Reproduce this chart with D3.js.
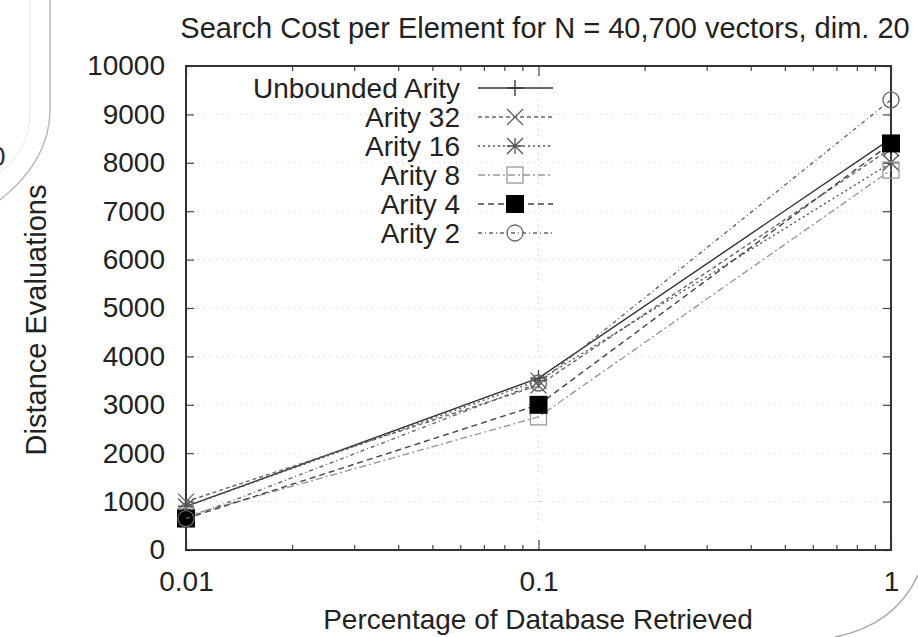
<!DOCTYPE html>
<html lang="en">
<head>
  <meta charset="UTF-8">
  <title>Search Cost per Element</title>
  <style>
    body { margin: 0; background: #fff; }
    svg { display: block; font-family: "Liberation Sans", Arial, sans-serif; }
  </style>
</head>
<body>
<div id="chart"></div>
<script src="https://d3js.org/d3.v7.min.js"></script>
<script>

const width = 918;
const height = 637;

// data
const fractions = [0.01, 0.1, 1];
const seriesNames = ["Unbounded Arity", "Arity 32", "Arity 16", "Arity 8", "Arity 4", "Arity 2"];
const unbounded = [900, 3550, 8500];
const arity32 = [1000, 3400, 8300];
const arity16 = [900, 3500, 8000];
const arity8 = [700, 2750, 7850];
const arity4 = [650, 3000, 8400];
const arity2 = [650, 3450, 9300];
const yTicks = [0, 1000, 2000, 3000, 4000, 5000, 6000, 7000, 8000, 9000, 10000];
const xTicks = [0.01, 0.1, 1];

const seriesValues = [unbounded, arity32, arity16, arity8, arity4, arity2];
const styles = [
  { color: "#333", dash: null, marker: "plus" },
  { color: "#666", dash: "4,3", marker: "cross" },
  { color: "#555", dash: "2,3", marker: "star" },
  { color: "#999", dash: "7,3,2,3", marker: "box" },
  { color: "#444", dash: "6,4", marker: "fbox" },
  { color: "#666", dash: "4,3,1,3", marker: "circle" }
];

const fs = 28;
const m = { left: 186, right: 27, top: 66, bottom: 87 };
const x = d3.scaleLog().domain([0.01, 1]).range([m.left, width - m.right]);
const y = d3.scaleLinear().domain([0, 10000]).range([height - m.bottom, m.top]);

const svg = d3.select("#chart").append("svg")
  .attr("width", width)
  .attr("height", height);

// page curl leftovers from the scan
svg.append("path")
  .attr("d", "M50,0 L50,110 Q50,160 0,200")
  .attr("fill", "none").attr("stroke", "#bbb").attr("stroke-width", 1.5);
svg.append("path")
  .attr("d", "M30,0 L30,112 Q30,150 0,172")
  .attr("fill", "none").attr("stroke", "#ddd").attr("stroke-width", 0.7);
svg.append("text").attr("x", -10).attr("y", 166).attr("font-size", fs).attr("fill", "#333").text("0");
svg.append("path")
  .attr("d", "M835,637 Q895,625 918,575")
  .attr("fill", "none").attr("stroke", "#aaa").attr("stroke-width", 1.5);

// grid
const g = svg.append("g");
g.selectAll(".gy").data(yTicks.slice(1, -1)).enter().append("line")
  .attr("x1", m.left).attr("x2", width - m.right)
  .attr("y1", d => y(d)).attr("y2", d => y(d))
  .attr("stroke", "#ccc").attr("stroke-dasharray", "1,5");
g.selectAll(".gx").data(xTicks.slice(1, -1)).enter().append("line")
  .attr("x1", d => x(d)).attr("x2", d => x(d))
  .attr("y1", y(0)).attr("y2", y(10000))
  .attr("stroke", "#ccc").attr("stroke-dasharray", "1,5");

// axes (mirrored ticks like gnuplot)
const minor = [];
[0.01, 0.1].forEach(b => { for (let k = 2; k <= 9; k++) minor.push(b * k); });

const axLeft = d3.axisLeft(y).tickValues(yTicks).tickSize(-8).tickPadding(21).tickFormat(d3.format("d"));
const axRight = d3.axisRight(y).tickValues(yTicks).tickSize(-8).tickFormat("");
const axBottom = d3.axisBottom(x).tickValues(xTicks).tickSize(-10).tickPadding(21).tickFormat(d => String(d));
const axTop = d3.axisTop(x).tickValues(xTicks).tickSize(-10).tickFormat("");
const minBottom = d3.axisBottom(x).tickValues(minor).tickSize(-5).tickFormat("");
const minTop = d3.axisTop(x).tickValues(minor).tickSize(-5).tickFormat("");

function styleAxis(sel) {
  sel.select(".domain").remove();
  sel.selectAll("line").attr("stroke", "#444").attr("stroke-width", 1.2);
  sel.selectAll("text").attr("font-size", fs).attr("fill", "#222")
    .attr("font-family", "'Liberation Sans', Arial, sans-serif");
}
svg.append("g").attr("transform", `translate(${m.left},0)`).call(axLeft).call(styleAxis);
svg.append("g").attr("transform", `translate(${width - m.right},0)`).call(axRight).call(styleAxis);
svg.append("g").attr("transform", `translate(0,${y(0)})`).call(axBottom).call(styleAxis);
svg.append("g").attr("transform", `translate(0,${y(10000)})`).call(axTop).call(styleAxis);
svg.append("g").attr("transform", `translate(0,${y(0)})`).call(minBottom).call(styleAxis);
svg.append("g").attr("transform", `translate(0,${y(10000)})`).call(minTop).call(styleAxis);

svg.append("rect")
  .attr("x", m.left).attr("y", y(10000))
  .attr("width", width - m.right - m.left).attr("height", y(0) - y(10000))
  .attr("fill", "none").attr("stroke", "#333").attr("stroke-width", 2);

// markers
function drawMarker(sel, type, color) {
  const s = 8;
  if (type === "plus") {
    sel.append("path").attr("d", `M${-s},0H${s}M0,${-s}V${s}`).attr("stroke", color).attr("stroke-width", 1.3);
  } else if (type === "cross") {
    sel.append("path").attr("d", `M${-s},${-s}L${s},${s}M${-s},${s}L${s},${-s}`).attr("stroke", color).attr("stroke-width", 1.3);
  } else if (type === "star") {
    sel.append("path").attr("d", `M${-s},0H${s}M0,${-s}V${s}M${-s},${-s}L${s},${s}M${-s},${s}L${s},${-s}`).attr("stroke", color).attr("stroke-width", 1.3);
  } else if (type === "box") {
    sel.append("rect").attr("x", -s).attr("y", -s).attr("width", 2 * s).attr("height", 2 * s)
      .attr("fill", "none").attr("stroke", color).attr("stroke-width", 1.3);
  } else if (type === "fbox") {
    sel.append("rect").attr("x", -s - 1).attr("y", -s - 1).attr("width", 2 * s + 2).attr("height", 2 * s + 2)
      .attr("fill", "#000");
  } else if (type === "circle") {
    sel.append("circle").attr("r", s).attr("fill", "none").attr("stroke", color).attr("stroke-width", 1.3);
  }
}

const line = d3.line().x((d, i) => x(fractions[i])).y(d => y(d));

seriesValues.forEach((vals, si) => {
  const st = styles[si];
  svg.append("path").datum(vals)
    .attr("d", line)
    .attr("fill", "none")
    .attr("stroke", st.color)
    .attr("stroke-width", 1.4)
    .attr("stroke-dasharray", st.dash);
  vals.forEach((v, i) => {
    const mk = svg.append("g").attr("transform", `translate(${x(fractions[i])},${y(v)})`);
    drawMarker(mk, st.marker, st.color);
  });
});

// legend
const legend = svg.append("g");
seriesNames.forEach((name, i) => {
  const st = styles[i];
  const ly = 88 + i * 29;
  legend.append("text")
    .attr("x", 460).attr("y", ly + 10)
    .attr("text-anchor", "end")
    .attr("font-size", fs).attr("fill", "#222")
    .text(name);
  legend.append("line")
    .attr("x1", 478).attr("x2", 553).attr("y1", ly).attr("y2", ly)
    .attr("stroke", st.color).attr("stroke-width", 1.4)
    .attr("stroke-dasharray", st.dash);
  drawMarker(legend.append("g").attr("transform", `translate(515,${ly})`), st.marker, st.color);
});

// titles
svg.append("text")
  .attr("x", 545).attr("y", 38)
  .attr("text-anchor", "middle").attr("font-size", 29).attr("fill", "#222")
  .text("Search Cost per Element for N = 40,700 vectors, dim. 20");
svg.append("text")
  .attr("x", 538).attr("y", 629)
  .attr("text-anchor", "middle").attr("font-size", fs).attr("fill", "#222")
  .text("Percentage of Database Retrieved");
svg.append("text")
  .attr("transform", "translate(46,320) rotate(-90)")
  .attr("text-anchor", "middle").attr("font-size", 29).attr("fill", "#222")
  .text("Distance Evaluations");

</script>
</body>
</html>
